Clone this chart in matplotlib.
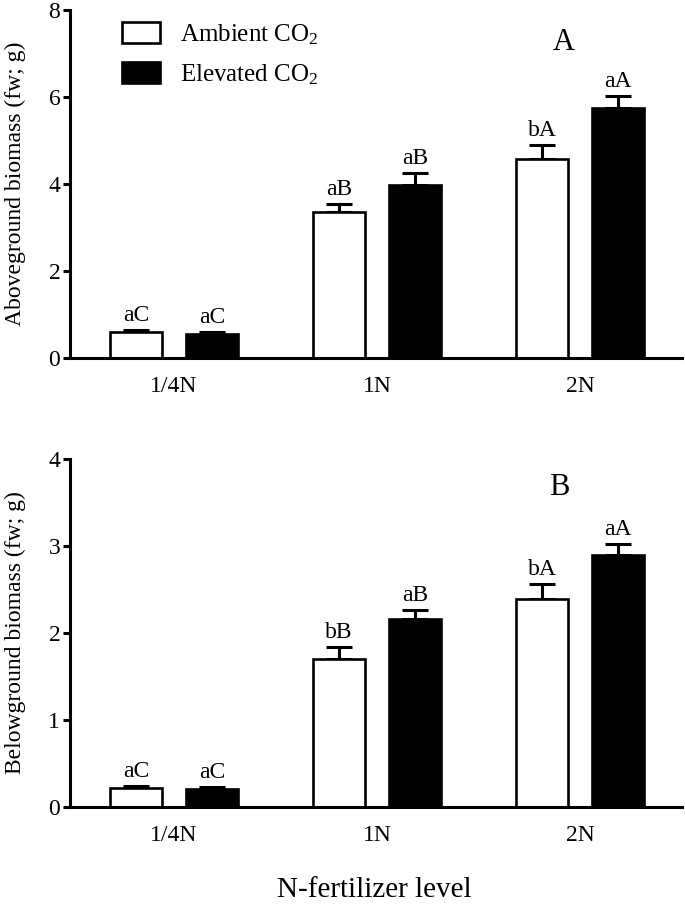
import numpy as np
import matplotlib
matplotlib.use('Agg')
import matplotlib.pyplot as plt
from matplotlib.patches import Patch

plt.rcParams['font.family'] = ['Liberation Serif', 'DejaVu Serif']
plt.rcParams['mathtext.fontset'] = 'custom'
plt.rcParams['mathtext.rm'] = 'Liberation Serif'
plt.rcParams['mathtext.it'] = 'Liberation Serif:italic'

# data
levels = ['1/4N', '1N', '2N']
series = ['Ambient CO$_2$', 'Elevated CO$_2$']

above_amb = [0.60, 3.35, 4.57]
above_amb_se = [0.05, 0.19, 0.32]
above_elev = [0.56, 3.98, 5.74]
above_elev_se = [0.04, 0.28, 0.29]
above_amb_lab = ['aC', 'aB', 'bA']
above_elev_lab = ['aC', 'aB', 'aA']

below_amb = [0.22, 1.70, 2.39]
below_amb_se = [0.02, 0.14, 0.17]
below_elev = [0.21, 2.16, 2.90]
below_elev_se = [0.02, 0.10, 0.12]
below_amb_lab = ['aC', 'bB', 'bA']
below_elev_lab = ['aC', 'aB', 'aA']

W, H = 685, 905
fig = plt.figure(figsize=(W / 100, H / 100), dpi=100)

x = np.arange(len(levels))
bw = 0.256
off = 0.187
lw = 2.2


def panel(ax, amb, amb_se, elev, elev_se, amb_lab, elev_lab, ymax, ylabel, tag, tagpos):
    ax.bar(x - off, amb, bw, color='white', edgecolor='black', linewidth=1.9, zorder=2)
    ax.bar(x + off, elev, bw, color='black', edgecolor='black', linewidth=1.9, zorder=2)
    for xs, v, e in [(x - off, amb, amb_se), (x + off, elev, elev_se)]:
        ax.errorbar(xs, v, yerr=[np.zeros(len(v)), e], fmt='none', ecolor='black',
                    elinewidth=lw, capsize=9.5, capthick=lw, zorder=1)
    for xs, v, e, labs in [(x - off, amb, amb_se, amb_lab), (x + off, elev, elev_se, elev_lab)]:
        for xi, vi, ei, t in zip(xs, v, e, labs):
            ax.annotate(t, (xi, vi + ei), xytext=(0, 3), textcoords='offset points',
                        ha='center', va='bottom', fontsize=17)
    ax.set_xlim(-0.512, 2.503)
    ax.set_ylim(0, ymax)
    ticks = np.arange(0, ymax + 0.1, ymax / 4)
    ax.set_yticks(ticks)
    ax.set_yticklabels([str(int(t)) for t in ticks])
    ax.set_xticks(x)
    ax.set_xticklabels(levels)
    ax.tick_params(axis='x', length=0, pad=13, labelsize=17)
    ax.tick_params(axis='y', length=5, width=lw, pad=2, labelsize=17)
    for s in ['top', 'right']:
        ax.spines[s].set_visible(False)
    for s in ['left', 'bottom']:
        ax.spines[s].set_linewidth(lw)
    ax.set_ylabel(ylabel, fontsize=17)
    ax.yaxis.set_label_coords(-0.072, 0.5)
    ax.text(tagpos[0], tagpos[1], tag, fontsize=22, ha='center', va='center')


ax1 = fig.add_axes([70 / W, 1 - 358 / H, 612 / W, 348 / H])
ax2 = fig.add_axes([70 / W, 1 - 807 / H, 612 / W, 348 / H])

panel(ax1, above_amb, above_amb_se, above_elev, above_elev_se, above_amb_lab, above_elev_lab,
      8, 'Aboveground biomass (fw; g)', 'A', (1.92, 7.25))
panel(ax2, below_amb, below_amb_se, below_elev, below_elev_se, below_amb_lab, below_elev_lab,
      4, 'Belowground biomass (fw; g)', 'B', (1.90, 3.67))

fig.text(374 / W, 1 - 897 / H, 'N-fertilizer level', fontsize=21, ha='center', va='baseline')

handles = [Patch(facecolor='white', edgecolor='black', linewidth=1.9),
           Patch(facecolor='black', edgecolor='black', linewidth=1.9)]
ax1.legend(handles, series, loc='upper left', bbox_to_anchor=(0.085, 0.965), frameon=False,
           fontsize=18, handlelength=1.52, handleheight=0.88, handletextpad=0.8,
           labelspacing=0.62, borderpad=0, borderaxespad=0)

fig.savefig('out.png', dpi=100)
